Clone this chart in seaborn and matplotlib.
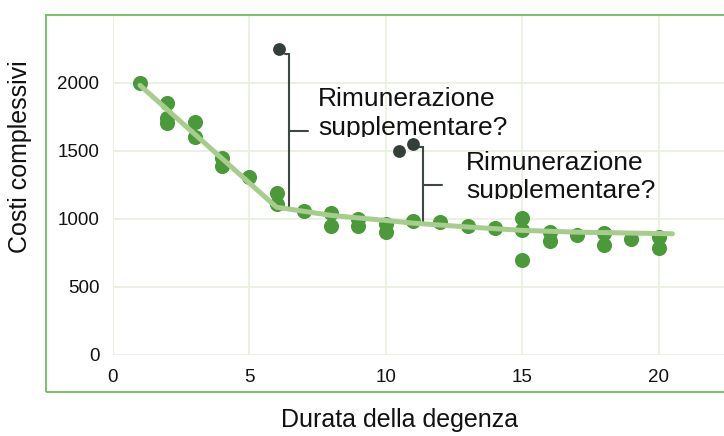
import matplotlib
matplotlib.use("Agg")
import matplotlib.pyplot as plt
import seaborn as sns
import pandas as pd
from matplotlib.patches import Rectangle
from matplotlib.transforms import Bbox, TransformedBbox

# ---- data ----
los = [1, 2, 2, 2, 3, 3, 4, 4, 5, 6, 6, 7, 8, 8, 9, 9, 10, 10, 11, 12, 13, 14,
       15, 15, 15, 16, 16, 17, 18, 18, 19, 20, 20]
cost = [2000, 1850, 1740, 1700, 1710, 1600, 1450, 1390, 1305, 1190, 1110, 1060,
        1040, 950, 995, 945, 960, 905, 985, 975, 950, 935,
        1005, 915, 700, 905, 840, 880, 895, 810, 850, 865, 785]
outlier_los = [6.1, 10.5, 11.0]
outlier_cost = [2250, 1500, 1550]
trend_los = [1, 6, 8, 10, 11, 13, 15, 17, 20.5]
trend_cost = [1980, 1085, 1025, 988, 968, 940, 915, 902, 890]
x_ticks = [0, 5, 10, 15, 20]
y_ticks = [0, 500, 1000, 1500, 2000]
x_label = "Durata della degenza"
y_label = "Costi complessivi"
note_line1 = "Rimunerazione"
note_line2 = "supplementare?"

df = pd.DataFrame({"los": los, "cost": cost})
df_out = pd.DataFrame({"los": outlier_los, "cost": outlier_cost})
df_trend = pd.DataFrame({"los": trend_los, "cost": trend_cost})

sns.set_style("white")
plt.rcParams["font.family"] = ["Liberation Sans", "DejaVu Sans"]

fig = plt.figure(figsize=(7.24, 4.36), dpi=100)
ax = fig.add_axes([0.1557, 0.1858, 1 - 0.1557, 0.9667 - 0.1858])

sns.scatterplot(data=df, x="los", y="cost", ax=ax, color="#4a9a3a", s=118,
                linewidth=0, zorder=3)
sns.lineplot(data=df_trend, x="los", y="cost", ax=ax, sort=False,
             color="#a6cd8b", linewidth=3.6, zorder=4)
sns.scatterplot(data=df_out, x="los", y="cost", ax=ax, color="#343f3a", s=85,
                linewidth=0, zorder=3)

ax.set_xlim(0, 22.39)
ax.set_ylim(0, 2500)
ax.set_xticks(x_ticks)
ax.set_yticks(y_ticks)
ax.grid(True, color="#e5eedc", linewidth=1.1)
ax.set_axisbelow(True)
for sp in ax.spines.values():
    sp.set_visible(False)
ax.tick_params(axis="both", length=0, labelsize=13.5, labelcolor="#111111")
ax.tick_params(axis="x", pad=10)
ax.tick_params(axis="y", pad=9.6)

ax.set_xlabel(x_label, fontsize=18, color="#111111", va="center")
ax.xaxis.set_label_coords(0.47, -0.191)
ax.set_ylabel(y_label, fontsize=18, color="#111111", va="center")
ax.yaxis.set_label_coords(-0.1516, 0.5815)

# brackets
bc = "#3d4843"
ax.plot([6.32, 6.46, 6.46], [2212, 2212, 1085], color=bc, lw=1.5, zorder=2,
        solid_joinstyle="miter")
ax.plot([6.46, 7.15], [1647, 1647], color=bc, lw=1.5, zorder=2)
ax.plot([11.1, 11.38, 11.38], [1524, 1524, 975], color=bc, lw=1.5, zorder=2,
        solid_joinstyle="miter")
ax.plot([11.38, 12.07], [1249, 1249], color=bc, lw=1.5, zorder=2)

# annotation texts (second line clipped at bottom as in the original)
for x0, yb1, yb2, yclip in [(7.52, 1825, 1615, 1604), (12.94, 1358, 1150, 1143)]:
    ax.text(x0, yb1, note_line1, fontsize=19, va="baseline", ha="left",
            color="#111111", zorder=5)
    t = ax.text(x0, yb2, note_line2, fontsize=19, va="baseline", ha="left",
                color="#111111", zorder=5)
    t.set_clip_box(TransformedBbox(Bbox([[x0 - 1, yclip], [x0 + 20, yclip + 600]]),
                                   ax.transData))
    t.set_clip_on(True)

# outer green frame
fig.patches.append(Rectangle((46 / 724, 44 / 436), 1.0, 0.9667 - 44 / 436,
                             transform=fig.transFigure, fill=False,
                             edgecolor="#6cbf5c", linewidth=1.3, zorder=10))

fig.savefig("out.png", dpi=100)
